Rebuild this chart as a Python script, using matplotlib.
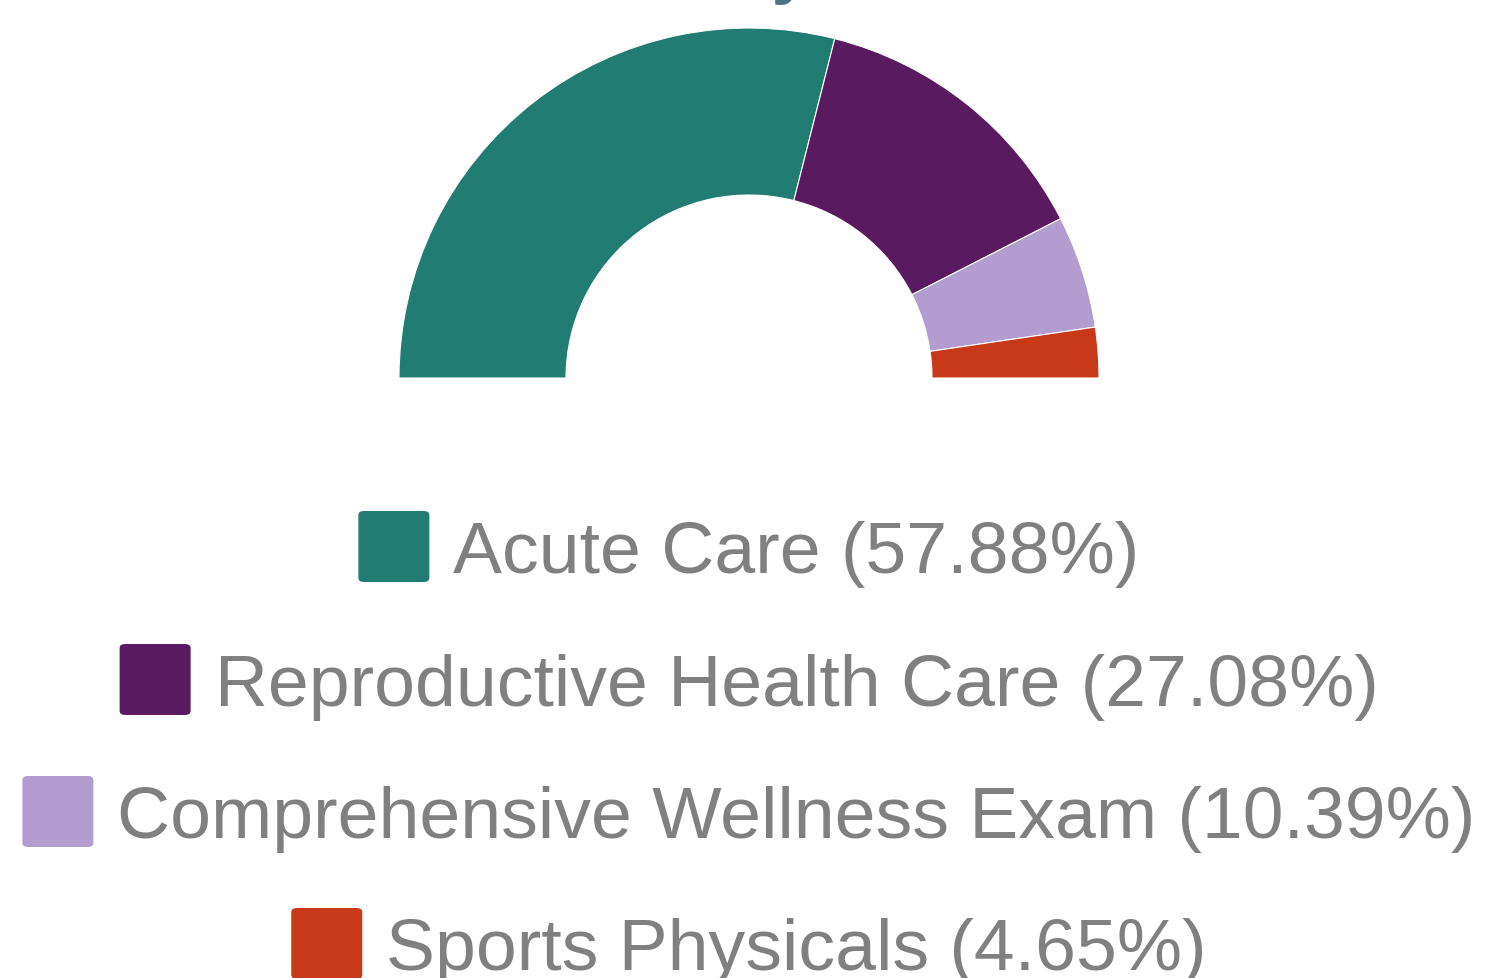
import matplotlib
matplotlib.use("Agg")
import matplotlib.pyplot as plt
from matplotlib.patches import FancyBboxPatch

categories = ["Acute Care", "Reproductive Health Care", "Comprehensive Wellness Exam", "Sports Physicals"]
shares = [57.88, 27.08, 10.39, 4.65]
colors = ["#217c72", "#591a60", "#b39cd0", "#c8391a"]
title_text = "Patient Visits by Service Mix"

W, H = 1486, 979
DPI = 100
fig = plt.figure(figsize=(W / DPI, H / DPI), dpi=DPI)
fig.patch.set_facecolor("white")

# donut half-circle: center (749, 379) px, outer radius 350 px
cx, cy, R = 749, 379, 350
ax = fig.add_axes([(cx - R) / W, (H - cy - R) / H, 2 * R / W, 2 * R / H])

total = sum(shares)
wedges, _ = ax.pie(shares + [total], startangle=180, counterclock=False,
                   colors=colors + ["white"], radius=1,
                   wedgeprops=dict(width=1 - 183 / 350, edgecolor="white", linewidth=0.8))
wedges[-1].set_visible(False)
ax.set_xlim(-1, 1)
ax.set_ylim(-1, 1)
ax.set_aspect("equal")
ax.axis("off")

# partially visible title at top
fig.text(0.5, (H + 9) / H, title_text, ha="center", va="baseline",
         fontsize=50, color="#4e7389", fontweight="bold", family="Liberation Sans")

# legend
fs = 52.8
baselines = [573, 706, 838, 970]
sq = 71
gap = 24
renderer = fig.canvas.get_renderer()
for name, val, col, yb in zip(categories, shares, colors, baselines):
    label = f"{name} ({val:.2f}%)"
    t = fig.text(0, 0, label, fontsize=fs, color="#808080", family="Liberation Sans",
                 ha="left", va="baseline")
    bb = t.get_window_extent(renderer)
    tw = bb.width
    total_w = sq + gap + tw
    x0 = cx - total_w / 2
    t.set_position(((x0 + sq + gap) / W, (H - yb) / H))
    sq_top = yb - 61
    box = FancyBboxPatch(((x0) / W, (H - sq_top - sq) / H), sq / W, sq / H,
                         boxstyle="round,pad=0,rounding_size=0.004",
                         transform=fig.transFigure, facecolor=col, edgecolor="none")
    fig.patches.append(box)

fig.savefig("out.png", dpi=DPI, facecolor="white")
